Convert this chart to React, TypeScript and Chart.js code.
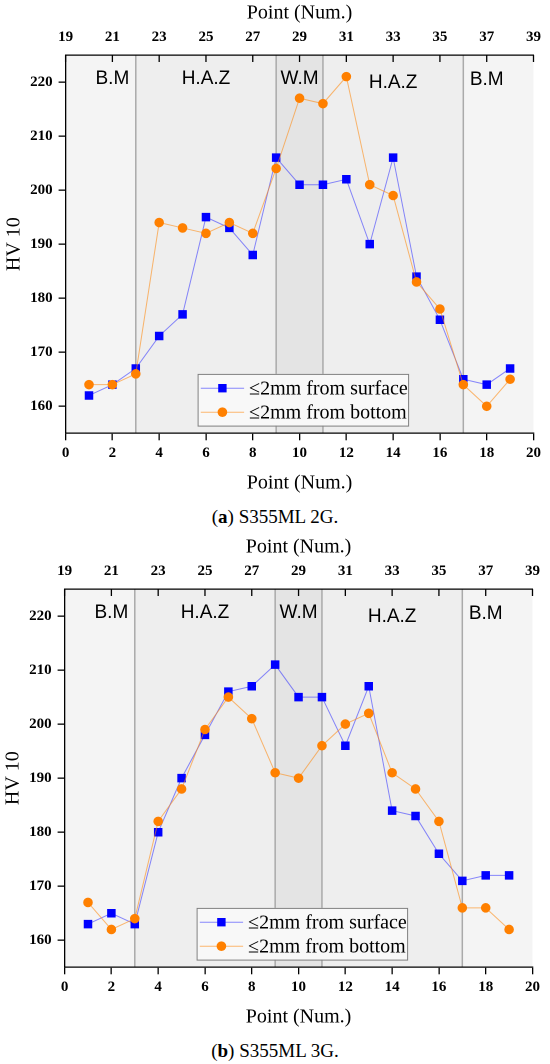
import React, { useEffect, useRef } from "react";
import { Chart, registerables } from "chart.js";

Chart.register(...registerables);

// ---- data ----
const pointNums = [1, 2, 3, 4, 5, 6, 7, 8, 9, 10, 11, 12, 13, 14, 15, 16, 17, 18, 19];
const bottomTickValues = [0, 2, 4, 6, 8, 10, 12, 14, 16, 18, 20];
const topTickValues = [19, 21, 23, 25, 27, 29, 31, 33, 35, 37, 39];
const yTickValues = [160, 170, 180, 190, 200, 210, 220];

const zoneBounds = [0, 3, 9, 11, 17, 20];
const zoneEdges = [3, 9, 11, 17];
const zoneLabels = ["B.M", "H.A.Z", "W.M", "H.A.Z", "B.M"];
const zoneLabelX = [2, 6, 10, 14, 18];
const zoneLabelY = [220.6, 220.6, 220.6, 219.9, 220.4];

const seriesNames = ["\u22642mm from surface", "\u22642mm from bottom"];

const surface2G = [162, 164, 167, 173, 177, 195, 193, 188, 206, 201, 201, 202, 190, 206, 184, 176, 165, 164, 167];
const bottom2G = [164, 164, 166, 194, 193, 192, 194, 192, 204, 217, 216, 221, 201, 199, 183, 178, 164, 160, 165];

const surface3G = [163, 165, 163, 180, 190, 198, 206, 207, 211, 205, 205, 196, 207, 184, 183, 176, 171, 172, 172];
const bottom3G = [167, 162, 164, 182, 188, 199, 205, 201, 191, 190, 196, 200, 202, 191, 188, 182, 166, 166, 162];

const SERIF = '"Liberation Serif", "Times New Roman", serif';
const SANS = '"Liberation Sans", Arial, sans-serif';

const BLUE = "#0000ff";
const BLUE_LINE = "rgba(60,60,255,0.6)";
const ORANGE = "#ff8000";
const ORANGE_LINE = "rgba(255,140,20,0.6)";

function HardnessChart(props: { surface: number[]; bottom: number[] }) {
  const ref = useRef<HTMLCanvasElement>(null);

  useEffect(() => {
    const canvas = ref.current;
    if (!canvas) return;

    const bandColors = ["#f4f4f4", "#eeeeee", "#e4e4e4", "#eeeeee", "#f4f4f4"];

    const zonesPlugin = {
      id: "zones",
      beforeDraw(chart: any) {
        const { ctx, chartArea: ca, scales } = chart;
        const xs = scales.x;
        const ys = scales.y;
        ctx.save();
        for (let i = 0; i < zoneLabels.length; i++) {
          const x0 = xs.getPixelForValue(zoneBounds[i]);
          const x1 = xs.getPixelForValue(zoneBounds[i + 1]);
          ctx.fillStyle = bandColors[i];
          ctx.fillRect(x0, ca.top, x1 - x0, ca.bottom - ca.top);
        }
        ctx.strokeStyle = "#aaaaaa";
        ctx.lineWidth = 1.5;
        for (const e of zoneEdges) {
          const x = xs.getPixelForValue(e);
          ctx.beginPath();
          ctx.moveTo(x, ca.top);
          ctx.lineTo(x, ca.bottom);
          ctx.stroke();
        }
        ctx.fillStyle = "#000";
        ctx.font = `19px ${SANS}`;
        ctx.textAlign = "center";
        ctx.textBaseline = "middle";
        for (let i = 0; i < zoneLabels.length; i++) {
          ctx.fillText(zoneLabels[i], xs.getPixelForValue(zoneLabelX[i]), ys.getPixelForValue(zoneLabelY[i]));
        }
        ctx.restore();
      },
      afterDraw(chart: any) {
        const { ctx, chartArea: ca, scales } = chart;
        const xt = scales.x2;
        ctx.save();
        // inward ticks on the top axis
        ctx.strokeStyle = "#000";
        ctx.lineWidth = 1.3;
        for (const v of topTickValues) {
          const x = xt.getPixelForValue(v);
          ctx.beginPath();
          ctx.moveTo(x, ca.top);
          ctx.lineTo(x, ca.top + 7);
          ctx.stroke();
        }
        // legend
        const lx = ca.left + 132;
        const ly = ca.bottom - 59.4;
        const lw = 210.5;
        const lh = 51.7;
        ctx.fillStyle = "#f8f8f8";
        ctx.fillRect(lx, ly, lw, lh);
        ctx.strokeStyle = "#808080";
        ctx.lineWidth = 1;
        ctx.strokeRect(lx + 0.5, ly + 0.5, lw, lh);
        const rows = [
          { y: ly + 14.3, line: BLUE_LINE, fill: BLUE, style: "rect" },
          { y: ly + 38.3, line: ORANGE_LINE, fill: ORANGE, style: "circle" },
        ];
        rows.forEach((r, i) => {
          ctx.strokeStyle = r.line;
          ctx.lineWidth = 1;
          ctx.beginPath();
          ctx.moveTo(lx + 3.2, r.y);
          ctx.lineTo(lx + 46.5, r.y);
          ctx.stroke();
          ctx.fillStyle = r.fill;
          const mx = lx + 24.8;
          if (r.style === "rect") {
            ctx.fillRect(mx - 4.2, r.y - 4.2, 8.4, 8.4);
          } else {
            ctx.beginPath();
            ctx.arc(mx, r.y, 4.8, 0, Math.PI * 2);
            ctx.fill();
          }
          ctx.fillStyle = "#000";
          ctx.font = `20px ${SERIF}`;
          ctx.textAlign = "left";
          ctx.textBaseline = "middle";
          ctx.fillText(seriesNames[i], lx + 51.5, r.y + 1);
        });
        ctx.restore();
      },
    };

    const tickFont = { family: SERIF, size: 15, weight: "bold" as const };
    const titleFont = { family: SERIF, size: 20, weight: "normal" as const };

    const chart = new Chart(canvas, {
      type: "line",
      data: {
        datasets: [
          {
            label: seriesNames[0],
            data: props.surface.map((v, i) => ({ x: pointNums[i], y: v })),
            borderColor: BLUE_LINE,
            borderWidth: 1,
            pointStyle: "rect",
            pointRadius: 5.3,
            pointBackgroundColor: BLUE,
            pointBorderColor: BLUE,
            pointBorderWidth: 1,
            xAxisID: "x",
            yAxisID: "y",
            order: 2,
          },
          {
            label: seriesNames[1],
            data: props.bottom.map((v, i) => ({ x: pointNums[i], y: v })),
            borderColor: ORANGE_LINE,
            borderWidth: 1,
            pointStyle: "circle",
            pointRadius: 4.3,
            pointBackgroundColor: ORANGE,
            pointBorderColor: ORANGE,
            pointBorderWidth: 1,
            xAxisID: "x",
            yAxisID: "y",
            order: 1,
          },
        ],
      },
      options: {
        animation: false,
        responsive: false,
        devicePixelRatio: 2,
        layout: { padding: { left: 0, right: 14, top: 0, bottom: 0 } },
        plugins: {
          legend: { display: false },
          tooltip: { enabled: false },
        },
        scales: {
          x: {
            type: "linear",
            position: "bottom",
            min: 0,
            max: 20,
            afterBuildTicks: (s: any) => {
              s.ticks = bottomTickValues.map((v) => ({ value: v }));
            },
            afterFit: (s: any) => {
              s.height = 66.7;
            },
            ticks: { font: tickFont, color: "#000", padding: 4, maxRotation: 0, autoSkip: false },
            grid: { drawOnChartArea: false, drawTicks: true, tickLength: 7, color: "#000", lineWidth: 1.3 },
            border: { display: true, color: "#000", width: 1.3 },
            title: { display: true, text: "Point (Num.)", font: titleFont, color: "#000", padding: { top: 0, bottom: 5 } },
          },
          x2: {
            type: "linear",
            position: "top",
            min: 19,
            max: 39,
            afterBuildTicks: (s: any) => {
              s.ticks = topTickValues.map((v) => ({ value: v }));
            },
            afterFit: (s: any) => {
              s.height = 55;
            },
            ticks: { font: tickFont, color: "#000", padding: 9, maxRotation: 0, autoSkip: false },
            grid: { drawOnChartArea: false, drawTicks: false, color: "#000" },
            border: { display: true, color: "#000", width: 1.3 },
            title: { display: true, text: "Point (Num.)", font: titleFont, color: "#000", padding: { top: 1, bottom: 0 } },
          },
          y: {
            type: "linear",
            position: "left",
            min: 155,
            max: 225,
            afterBuildTicks: (s: any) => {
              s.ticks = yTickValues.map((v) => ({ value: v }));
            },
            afterFit: (s: any) => {
              s.width = 65.6;
            },
            ticks: { font: tickFont, color: "#000", padding: 6 },
            grid: { drawOnChartArea: false, drawTicks: true, tickLength: 7, color: "#000", lineWidth: 1.3 },
            border: { display: true, color: "#000", width: 1.3 },
            title: { display: true, text: "HV 10", font: titleFont, color: "#000", padding: { top: 2, bottom: 0 } },
          },
        },
      } as any,
      plugins: [zonesPlugin],
    });

    return () => chart.destroy();
  }, [props.surface, props.bottom]);

  return <canvas ref={ref} width={550} height={500} style={{ width: 550, height: 500, display: "block" }} />;
}

const captionStyle: React.CSSProperties = {
  position: "absolute",
  left: 0,
  width: 550,
  textAlign: "center",
  fontFamily: SERIF,
  fontSize: 19,
  lineHeight: "22px",
  color: "#000",
};

export default function App() {
  return (
    <div style={{ position: "absolute", top: 0, left: 0, width: 550, height: 1064, background: "#fff", overflow: "hidden" }}>
      <div style={{ position: "absolute", top: 0, left: 0 }}>
        <HardnessChart surface={surface2G} bottom={bottom2G} />
      </div>
      <div style={{ ...captionStyle, top: 506 }}>
        (<b>a</b>) S355ML 2G.
      </div>
      <div style={{ position: "absolute", top: 534, left: -1.4 }}>
        <HardnessChart surface={surface3G} bottom={bottom3G} />
      </div>
      <div style={{ ...captionStyle, top: 1040 }}>
        (<b>b</b>) S355ML 3G.
      </div>
    </div>
  );
}
